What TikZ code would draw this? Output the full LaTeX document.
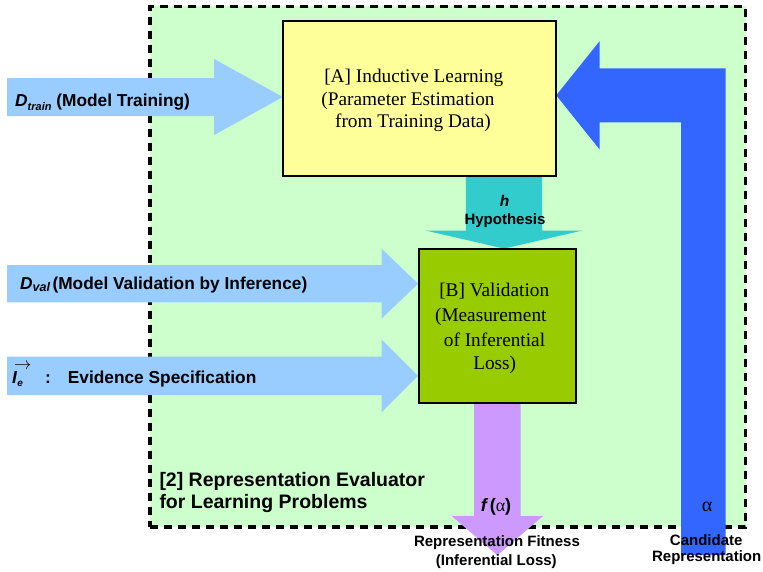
\documentclass[tikz,border=0pt]{standalone}
\usepackage{fontspec}
\setmainfont{Liberation Serif}
\newfontfamily\arialfont{Liberation Sans}
\usetikzlibrary{calc}

\definecolor{evalgreen}{HTML}{CCFFCC}
\definecolor{boxyellow}{HTML}{FFFF99}
\definecolor{boxgreen}{HTML}{99CC00}
\definecolor{inblue}{HTML}{99CCFF}
\definecolor{hypteal}{HTML}{33CCCC}
\definecolor{fitpurple}{HTML}{CC99FF}
\definecolor{candblue}{HTML}{3366FF}

\begin{document}
\begin{tikzpicture}[x=1pt,y=-1pt,
  frame/.style={draw=black, line width=3.3pt, dash pattern=on 8pt off 6pt,
                fill=evalgreen, inner sep=0pt},
  stage/.style={draw=black, line width=2pt, inner sep=0pt},
  serifline/.style={inner sep=0pt, anchor=base, font=\fontsize{19.3}{22.5}\selectfont},
  inlabel/.style={inner sep=0pt, anchor=base west,
                  font=\arialfont\bfseries\fontsize{17.3}{20}\selectfont},
  smalllabel/.style={inner sep=0pt, anchor=base,
                     font=\arialfont\bfseries\fontsize{15}{18}\selectfont},
  biglabel/.style={inner sep=0pt, anchor=base west,
                   font=\arialfont\bfseries\fontsize{19.5}{22}\selectfont},
]
% canvas
\fill[white] (0,0) rectangle (763,571);
\useasboundingbox (0,0) rectangle (763,571);

% evaluator frame and the two stages
\node[frame, minimum width=595.5pt, minimum height=520.7pt] (eval) at (447.75,266.65) {};
\path (283,21) -- (556,176) node[midway, inner sep=0pt, minimum width=273pt, minimum height=155pt] (A) {};
\path (419,248.8) -- (575.7,403) node[midway, inner sep=0pt, minimum width=156.7pt, minimum height=154.2pt] (B) {};

% free ends of the block arrows
\coordinate (trainIn) at (7,97);
\coordinate (valIn)   at (7,283.7);
\coordinate (evIn)    at (7,375.85);
\coordinate (fitOut)  at ($(B.south)+(0,152)$);
\coordinate (candIn)  at (703.35,555);

% tips on the stages
\coordinate (trainTip) at ($(A.west)+(0,-1.5)$);
\coordinate (valTip)   at ($(B.west)+(-0.7,-42.2)$);
\coordinate (evTip)    at ($(B.west)+(-0.7,49.95)$);
\coordinate (candTip)  at ($(A.east)+(0,-3.2)$);
\coordinate (hTop)     at ($(A.south)+(84.5,0)$);
\coordinate (hTip)     at ($(B.north)+(6.65,0)$);

% D_train -> A
\fill[inblue] let \p1=(trainIn), \p2=(trainTip) in
  (\x1,\y1+19pt) -- (\x2-68.7pt,\y1+19pt) -- (\x2-68.7pt,\y2+38pt) -- (\p2)
  -- (\x2-68.7pt,\y2-38pt) -- (\x2-68.7pt,\y1-19pt) -- (\x1,\y1-19pt) -- cycle;
% D_val -> B
\fill[inblue] let \p1=(valIn), \p2=(valTip) in
  (\x1,\y1+18.65pt) -- (\x2-36.6pt,\y1+18.65pt) -- (\x2-36.6pt,\y2+35pt) -- (\p2)
  -- (\x2-36.6pt,\y2-35pt) -- (\x2-36.6pt,\y1-18.65pt) -- (\x1,\y1-18.65pt) -- cycle;
% evidence -> B
\fill[inblue] let \p1=(evIn), \p2=(evTip) in
  (\x1,\y1+19.15pt) -- (\x2-36.6pt,\y1+19.15pt) -- (\x2-36.6pt,\y2+36.5pt) -- (\p2)
  -- (\x2-36.6pt,\y2-36.5pt) -- (\x2-36.6pt,\y1-19.15pt) -- (\x1,\y1-19.15pt) -- cycle;
% hypothesis A -> B
\fill[hypteal] let \p1=(hTop), \p2=(hTip) in
  (\x1-38.15pt,\y1) -- (\x1+38.15pt,\y1) -- (\x1+38.15pt,\y2+18pt) -- (\x2+78pt,\y2+18pt)
  -- (\p2) -- (\x2-78pt,\y2+18pt) -- (\x1-38.15pt,\y2+18pt) -- cycle;
% fitness out of B
\fill[fitpurple] let \p1=(B.south), \p2=(fitOut) in
  (\x1-23.35pt,\y1) -- (\x1+23.35pt,\y1) -- (\x1+23.35pt,\y2+39pt) -- (\x2+45.5pt,\y2+39pt)
  -- (\p2) -- (\x2-45.5pt,\y2+39pt) -- (\x1-23.35pt,\y2+39pt) -- cycle;
% candidate representation back into A
\fill[candblue] let \p1=(candIn), \p2=(candTip) in
  (\x1+22.35pt,\y1) -- (\x1+22.35pt,\y2+27pt) -- (\x2+43.3pt,\y2+27pt)
  -- (\x2+43.3pt,\y2+54pt) -- (\p2) -- (\x2+43.3pt,\y2-54pt)
  -- (\x2+43.3pt,\y2-27pt) -- (\x1-22.35pt,\y2-27pt) -- (\x1-22.35pt,\y1) -- cycle;

% stage boxes on top of the arrow ends
\node[stage, fill=boxyellow, minimum width=273pt, minimum height=155pt] at (A) {};
\node[stage, fill=boxgreen, minimum width=156.7pt, minimum height=154.2pt] at (B) {};

% stage texts
\node[serifline] (a1) at (413.8,82.7) {[A] Inductive Learning};
\node[serifline] (a2) at (408,105) {(Parameter Estimation};
\node[serifline] (a3) at (413,127.7) {from Training Data)};
\node[serifline] (b1) at (494.2,296.7) {[B] Validation};
\node[serifline] (b2) at (490.8,321.7) {(Measurement};
\node[serifline] (b3) at (494.5,346) {of Inferential};
\node[serifline] (b4) at (494.7,369) {Loss)};

% input labels
\node[inlabel] (ltrain) at (15,106)
  {\textit{D}\lower4pt\hbox{\fontsize{11}{11}\selectfont\itshape train} (Model Training)};
\node[inlabel] (lval) at (20,289.3)
  {\textit{D}\lower2.5pt\hbox{\fontsize{12.5}{12.5}\selectfont\itshape val}\kern2.5pt(Model Validation by Inference)};
\node[inlabel] (lev) at (12,383.5)
  {\makebox[33pt][l]{\rlap{\kern2pt\raisebox{13.8pt}{\fontsize{18}{18}\selectfont$\rightarrow$}}\textit{I}\lower2.5pt\hbox{\fontsize{10}{10}\selectfont\itshape e}}\makebox[22.7pt][l]{:}Evidence Specification};

% hypothesis label
\node[smalllabel, font=\arialfont\bfseries\itshape\fontsize{15.5}{18}\selectfont] (lh) at (504.5,206) {h};
\node[smalllabel] (lhyp) at (505,224) {Hypothesis};

% evaluator title
\node[biglabel] (t1) at (159.3,486.7) {[2] Representation Evaluator};
\node[biglabel] (t2) at (159.3,508.3) {for Learning Problems};

% output and feedback labels
\node[inner sep=0pt, anchor=base, font=\arialfont\bfseries\fontsize{18}{20}\selectfont] (lf) at (496,511.7)
  {\textit{f}\kern1.5pt({\rmfamily\mdseries\upshape α})};
\node[smalllabel] (lfit1) at (497,546.7) {Representation Fitness};
\node[smalllabel] (lfit2) at (496.3,565) {(Inferential Loss)};
\node[inner sep=0pt, anchor=base, font=\fontsize{20}{22}\selectfont] (lalpha) at (707,511.7) {α};
\node[smalllabel] (lcand1) at (706.2,545) {Candidate};
\node[smalllabel] (lcand2) at (706.7,561.7) {Representation};
\end{tikzpicture}
\end{document}
